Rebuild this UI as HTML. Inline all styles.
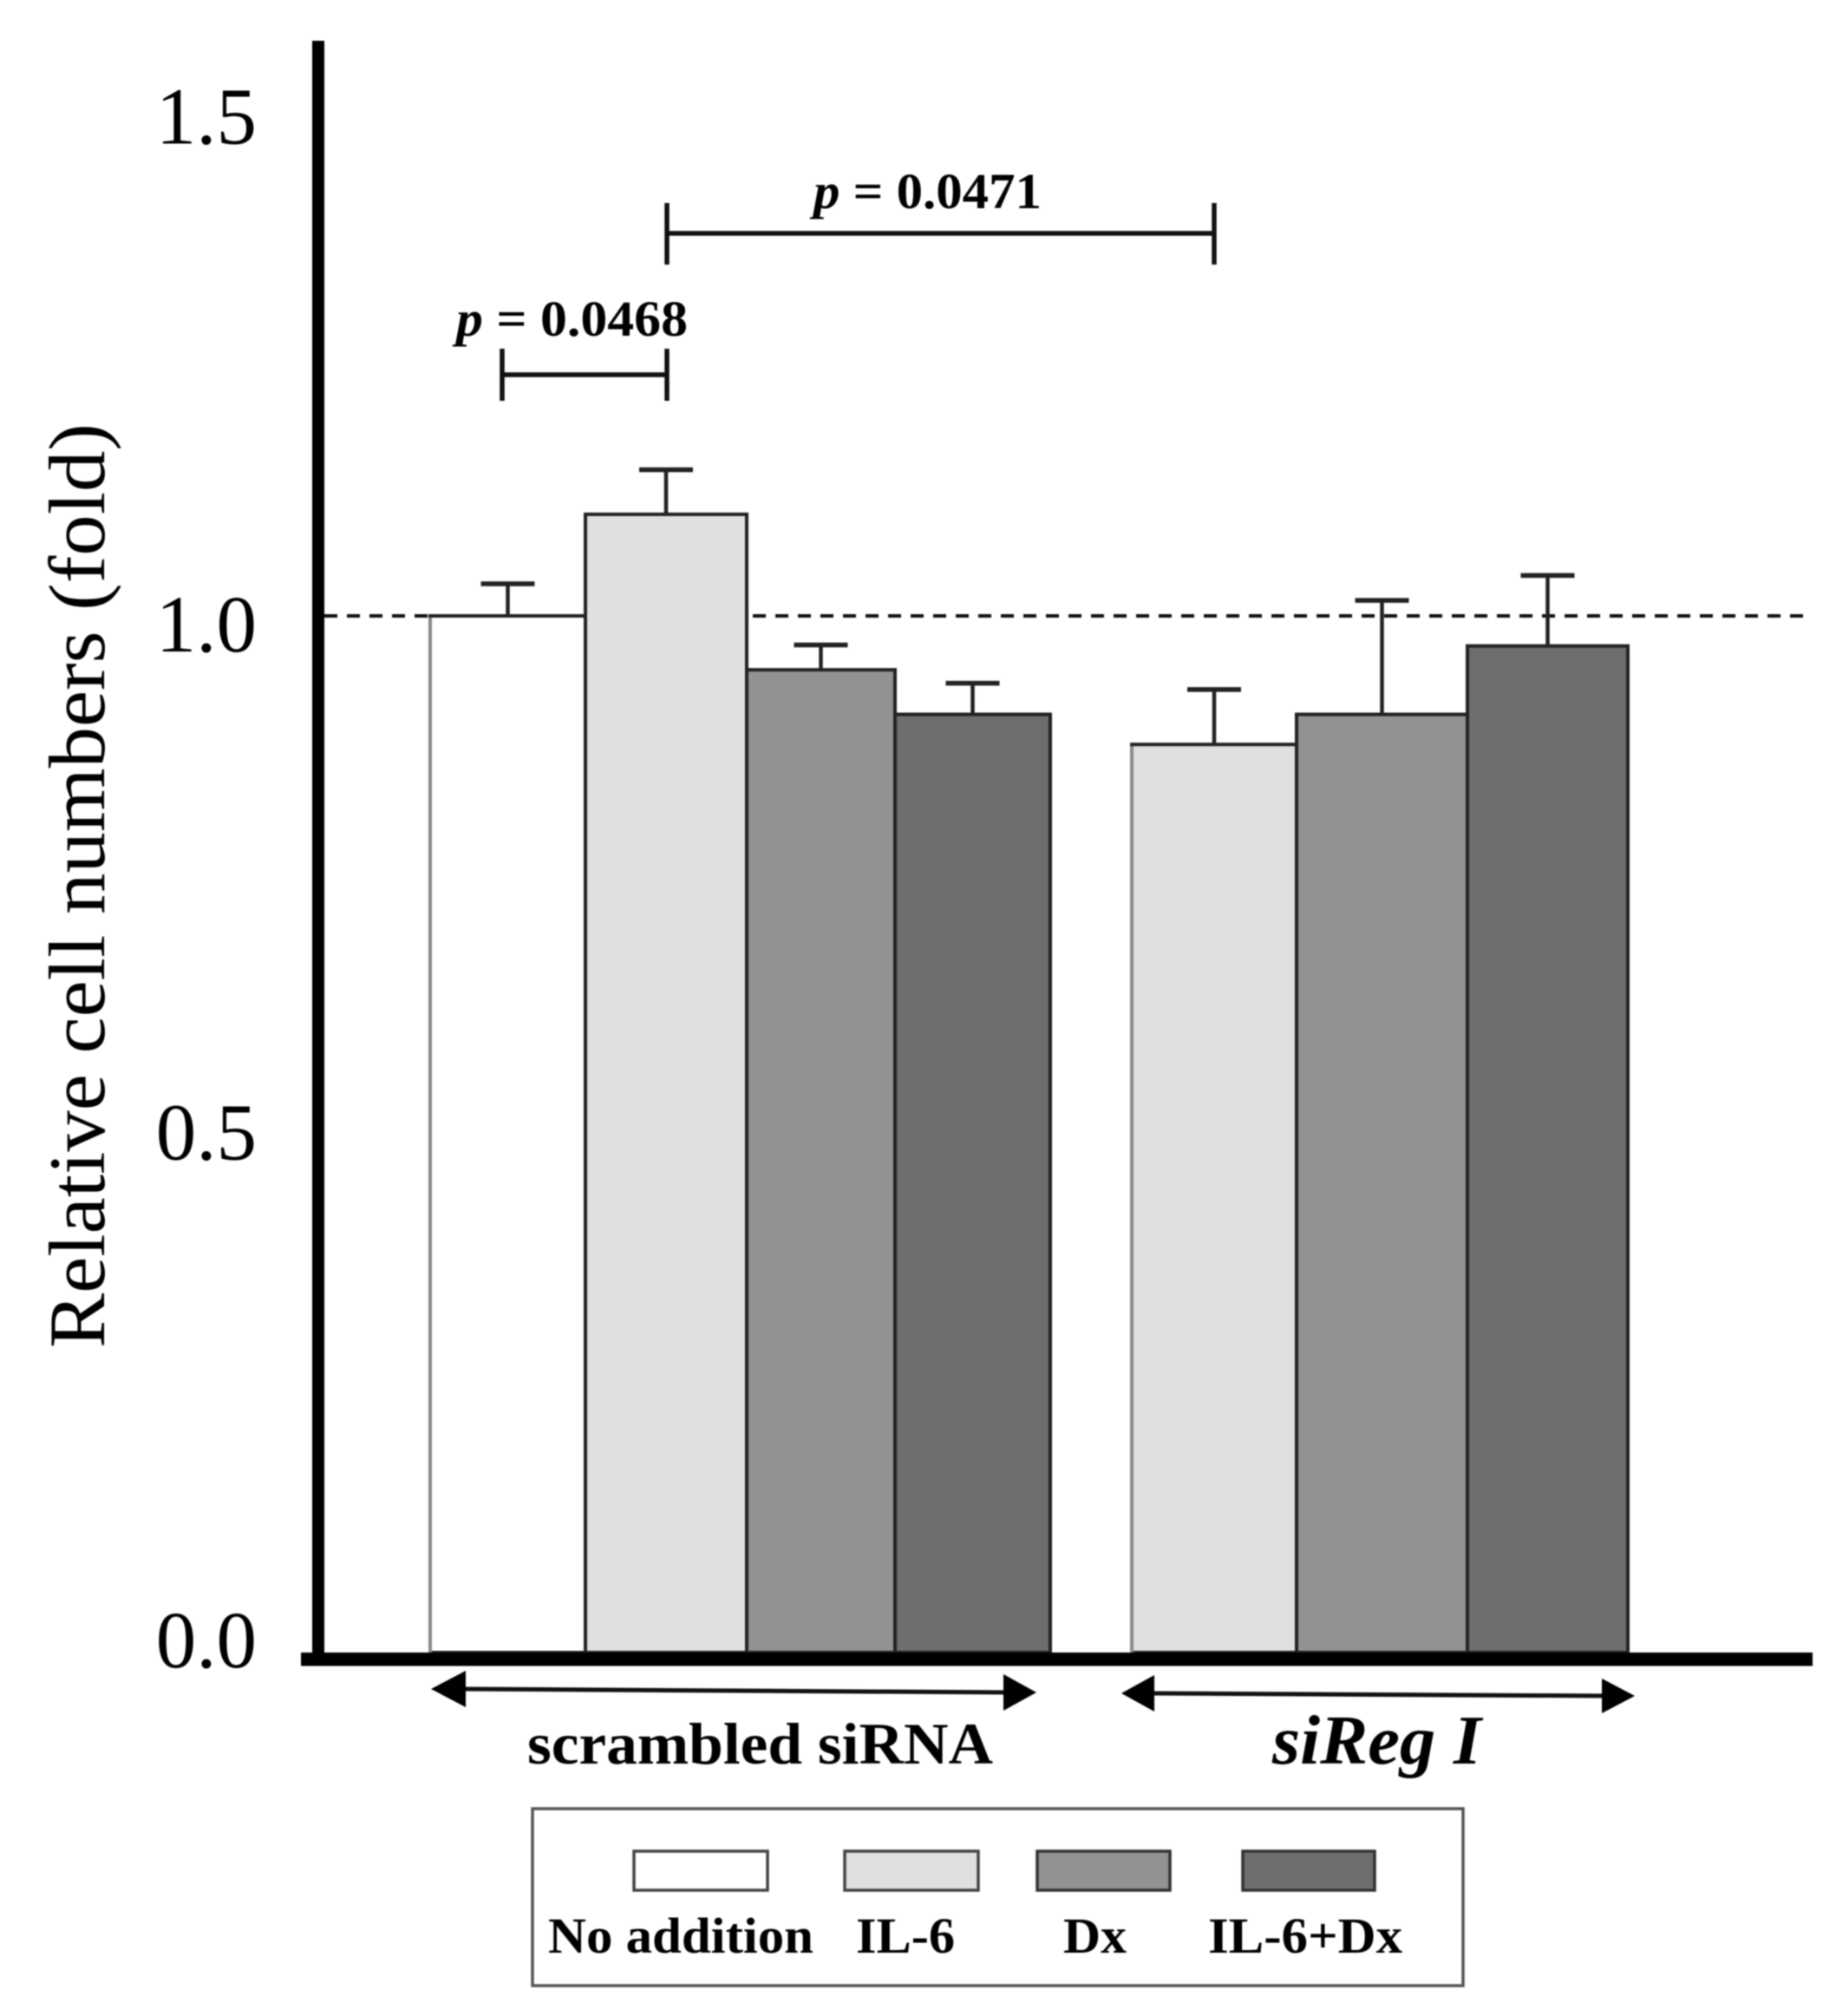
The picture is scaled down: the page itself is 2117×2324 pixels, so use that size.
<!DOCTYPE html>
<html lang="en">
<head>
<meta charset="utf-8">
<title>Relative cell numbers bar chart</title>
<style>
html,body{margin:0;padding:0;background:#fff;width:2117px;height:2324px;overflow:hidden}
svg{display:block;filter:blur(0.9px)}
text{font-family:"Liberation Serif",serif;fill:#000}
.bold{font-weight:700}
</style>
</head>
<body>
<svg id="chart" xmlns="http://www.w3.org/2000/svg" width="2117" height="2324" viewBox="0 0 2117 2324">
  <rect x="0" y="0" width="2117" height="2324" fill="#fff"/>
  <line x1="374" y1="710" x2="2084" y2="710" stroke="#111" stroke-width="4" stroke-dasharray="15 11"/>
  <g id="bars"></g>
  <g id="errors"></g>
  <g id="ticks"></g>

  <rect x="360" y="47" width="14" height="1860" fill="#000"/>
  <rect x="347" y="1905" width="1743" height="15.5" fill="#000"/>
  <text transform="translate(120,1554) rotate(-90)" font-size="92" textLength="1066" lengthAdjust="spacingAndGlyphs">Relative cell numbers (fold)</text>

  <g stroke="#111" stroke-width="5.5" fill="none">
    <line x1="579" y1="432" x2="769" y2="432"/>
    <line x1="579" y1="402" x2="579" y2="462"/>
    <line x1="769" y1="402" x2="769" y2="462"/>
  </g>
  <text class="bold" x="526" y="387" font-size="58" textLength="267" lengthAdjust="spacingAndGlyphs"><tspan font-style="italic">p</tspan> = 0.0468</text>
  <g stroke="#111" stroke-width="5.5" fill="none">
    <line x1="769" y1="269" x2="1400" y2="269"/>
    <line x1="769" y1="234" x2="769" y2="305"/>
    <line x1="1400" y1="234" x2="1400" y2="305"/>
  </g>
  <text class="bold" x="938" y="240" font-size="58" textLength="263" lengthAdjust="spacingAndGlyphs"><tspan font-style="italic">p</tspan> = 0.0471</text>

  <g fill="#000" stroke="none">
    <line x1="530" y1="1947" x2="1165" y2="1951" stroke="#111" stroke-width="5"/>
    <polygon points="497,1947 537,1926 537,1968"/>
    <polygon points="1195,1951 1157,1930 1157,1972"/>
  </g>
  <text class="bold" x="608" y="2033" font-size="68" textLength="537" lengthAdjust="spacingAndGlyphs">scrambled siRNA</text>
  <g fill="#000" stroke="none">
    <line x1="1325" y1="1952" x2="1855" y2="1955" stroke="#111" stroke-width="5"/>
    <polygon points="1293,1952 1331,1931 1331,1973"/>
    <polygon points="1885,1955 1847,1935 1847,1975"/>
  </g>
  <text class="bold" font-style="italic" x="1467" y="2033" font-size="80" textLength="241" lengthAdjust="spacingAndGlyphs">siReg I</text>

  <g>
    <rect x="614" y="2085" width="1073" height="204" fill="#fff" stroke="#555" stroke-width="3.5"/>
    <rect x="731" y="2134" width="154" height="45" fill="#fff" stroke="#444" stroke-width="3.5"/>
    <rect x="974" y="2134" width="154" height="45" fill="#e0e0e0" stroke="#444" stroke-width="3.5"/>
    <rect x="1196" y="2134" width="153" height="45" fill="#929292" stroke="#333" stroke-width="3.5"/>
    <rect x="1433" y="2134" width="152" height="45" fill="#6e6e6e" stroke="#333" stroke-width="3.5"/>
    <text class="bold" x="632" y="2251" font-size="58" textLength="306" lengthAdjust="spacingAndGlyphs">No addition</text>
    <text class="bold" x="987" y="2251" font-size="58" textLength="114" lengthAdjust="spacingAndGlyphs">IL-6</text>
    <text class="bold" x="1226" y="2251" font-size="58" textLength="73" lengthAdjust="spacingAndGlyphs">Dx</text>
    <text class="bold" x="1393" y="2251" font-size="58" textLength="224" lengthAdjust="spacingAndGlyphs">IL-6+Dx</text>
  </g>
</svg>
<script>
const categories = ["scrambled No addition", "scrambled IL-6", "scrambled Dx", "scrambled IL-6+Dx", "siReg I IL-6", "siReg I Dx", "siReg I IL-6+Dx"];
const meanValues = [1.0, 1.098, 0.948, 0.905, 0.876, 0.905, 0.971];
const errorValues = [0.031, 0.043, 0.024, 0.030, 0.053, 0.110, 0.068];
const treatments = ["none", "il6", "dx", "il6dx", "il6", "dx", "il6dx"];
const tickValues = [0, 0.5, 1.0, 1.5];
const tickLabels = ["0.0", "0.5", "1.0", "1.5"];

const NS = "http://www.w3.org/2000/svg";
function yScale(v) { return 1905 - 1195 * v; }
function tickBaseline(v) { return 1922 - 1171 * v; }
function xBand(i) {
  const edges = [[496, 675], [675, 861], [861, 1032], [1032, 1211], [1305, 1495], [1495, 1692], [1692, 1877]];
  return { left: edges[i][0], right: edges[i][1] };
}
function fillFor(t) {
  if (t === "none") return "#ffffff";
  if (t === "il6") return "#e0e0e0";
  if (t === "dx") return "#929292";
  return "#6e6e6e";
}
function make(tag, attrs) {
  const el = document.createElementNS(NS, tag);
  Object.keys(attrs).forEach(function (k) { el.setAttribute(k, attrs[k]); });
  return el;
}

const barsGroup = document.getElementById("bars");
const errorsGroup = document.getElementById("errors");
const ticksGroup = document.getElementById("ticks");

categories.forEach(function (cat, i) {
  const band = xBand(i);
  const top = yScale(meanValues[i]);
  const cx = (band.left + band.right) / 2;
  const errTop = yScale(meanValues[i] + errorValues[i]);

  const bar = make("rect", { x: band.left, y: top, width: band.right - band.left, height: yScale(0) - top, fill: fillFor(treatments[i]), stroke: "#222", "stroke-width": 4 });
  
  
  barsGroup.appendChild(bar);

  const stem = make("line", { x1: cx, y1: top, x2: cx, y2: errTop, stroke: "#222", "stroke-width": 4.5 });
  
  
  errorsGroup.appendChild(stem);

  const cap = make("line", { x1: cx - 31, y1: errTop, x2: cx + 31, y2: errTop, stroke: "#222", "stroke-width": 5.5 });
  
  
  errorsGroup.appendChild(cap);
});

// Re-stroke the light left edges that appear gray in the reference.
[0, 4].forEach(function (i) {
  const band = xBand(i);
  const top = yScale(meanValues[i]);
  const edge = make("line", { x1: band.left, y1: top + 2, x2: band.left, y2: yScale(0), stroke: "#8a8a8a", "stroke-width": 4 });
  
  
  barsGroup.appendChild(edge);
});

tickValues.forEach(function (v, i) {
  const t = make("text", { x: 296, y: tickBaseline(v), "text-anchor": "end", "font-size": 93 });
  
  
  t.textContent = tickLabels[i];
  ticksGroup.appendChild(t);
});
</script>
</body>
</html>
